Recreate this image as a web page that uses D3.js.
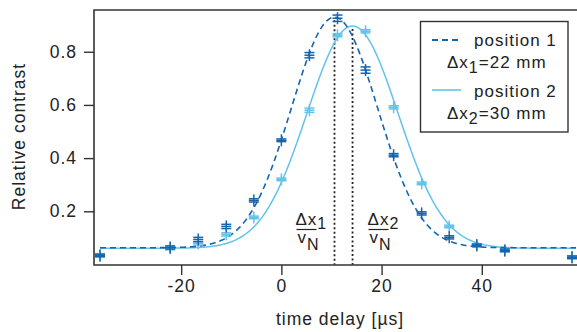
<!DOCTYPE html>
<html>
<head>
<meta charset="utf-8">
<script src="https://cdn.jsdelivr.net/npm/d3@7"></script>
<style>
body { margin: 0; background: #fff; }
text { font-family: "Liberation Sans", Arial, sans-serif; fill: #222; letter-spacing: 1px; }
</style>
</head>
<body>
<svg width="577" height="332"></svg>
<script>
var delay = [-36.2, -22.2, -16.6, -11, -5.5, 0, 5.6, 11.2, 16.8, 22.4, 28, 33.5, 39, 44.6, 58];
var pos1 = [0.034, 0.064, 0.094, 0.143, 0.241, 0.467, 0.787, 0.926, 0.731, 0.411, 0.192, 0.102, 0.072, 0.053, 0.027];
var pos1Err = [0.005, 0.006, 0.008, 0.008, 0.006, 0.005, 0.010, 0.012, 0.012, 0.006, 0.006, 0.006, 0.005, 0.005, 0.005];
var pos2 = [0.034, 0.061, 0.079, 0.113, 0.177, 0.32, 0.58, 0.862, 0.877, 0.591, 0.305, 0.143, 0.072, 0.053, 0.027];
var pos2Err = [0.005, 0.006, 0.006, 0.006, 0.005, 0.005, 0.008, 0.006, 0.006, 0.006, 0.005, 0.005, 0.005, 0.005, 0.005];

// gaussian fit params: offset, amplitude, centre, sigma
var fit1 = [0.063, 0.867, 10.6, 8.6];
var fit2 = [0.061, 0.836, 14.2, 9.1];

var xTicks = [-20, 0, 20, 40];
var yTicks = [0.2, 0.4, 0.6, 0.8];

var dark = "#1565ad";
var light = "#62c3ea";

var svg = d3.select("svg");
var x = d3.scaleLinear().domain([-37.4, 59.6]).range([94, 580]);
var y = d3.scaleLinear().domain([-0.002, 0.957]).range([265, 10]);

var xAxis = d3.axisBottom(x).tickValues(xTicks).tickSize(10).tickSizeOuter(0).tickPadding(5)
  .tickFormat(function(d){ return String(d); });
var gx = svg.append("g").attr("transform", "translate(0,265)").call(xAxis);
var yAxis = d3.axisLeft(y).tickValues(yTicks).tickSize(10).tickSizeOuter(0).tickPadding(7).tickFormat(d3.format(".1f"));
var gy = svg.append("g").attr("transform", "translate(94,0)").call(yAxis);
[gx, gy].forEach(function(g){
  g.select(".domain").remove();
  g.selectAll("line").attr("stroke", "#333").attr("stroke-width", 1.4);
  g.selectAll("text").style("font-size", "17.5px").attr("fill", "#222");
});

// frame
svg.append("path")
  .attr("d", "M580,10H94V265H580")
  .attr("fill", "none").attr("stroke", "#333").attr("stroke-width", 1.6);

// dotted peak markers
function gauss(p, t){ return p[0] + p[1]*Math.exp(-(t-p[2])*(t-p[2])/(2*p[3]*p[3])); }
[fit1, fit2].forEach(function(p){
  svg.append("line")
    .attr("x1", x(p[2])).attr("x2", x(p[2]))
    .attr("y1", y(gauss(p, p[2])) + 3).attr("y2", y(0))
    .attr("stroke", "#222").attr("stroke-width", 1.8).attr("stroke-dasharray", "2,2.5");
});

// fit curves
var tt = d3.range(-36.2, 59.01, 0.25);
function curve(p){
  return d3.line().x(function(t){return x(t)}).y(function(t){return y(gauss(p, t))})(tt);
}
svg.append("path").attr("d", curve(fit2)).attr("fill", "none").attr("stroke", light).attr("stroke-width", 1.5);
svg.append("path").attr("d", curve(fit1)).attr("fill", "none").attr("stroke", dark).attr("stroke-width", 1.6).attr("stroke-dasharray", "6,4");

// markers with error bars
function markers(vals, errs, col){
  var g = svg.append("g").attr("stroke", col).attr("stroke-width", 1.5).attr("fill", "none");
  vals.forEach(function(v, i){
    var cx = x(delay[i]), cy = y(v);
    g.append("line").attr("x1", cx-5).attr("x2", cx+5).attr("y1", cy).attr("y2", cy);
    g.append("line").attr("x1", cx).attr("x2", cx).attr("y1", cy-6).attr("y2", cy+6);
    [-1, 1].forEach(function(s){
      var ey = y(v + s*errs[i]);
      g.append("line").attr("x1", cx-5).attr("x2", cx+5).attr("y1", ey).attr("y2", ey);
    });
  });
}
markers(pos2, pos2Err, light);
markers(pos1, pos1Err, dark);

// fraction annotations
function frac(left, sub){
  var num = svg.append("text").attr("x", left).attr("y", 225).style("font-size", "17px");
  num.append("tspan").text("Δx");
  num.append("tspan").attr("dy", 4).style("font-size", "16px").text(sub);
  svg.append("line").attr("x1", left+1).attr("x2", left+21).attr("y1", 229.5).attr("y2", 229.5)
    .attr("stroke", "#222").attr("stroke-width", 1.2);
  var den = svg.append("text").attr("x", left+2).attr("y", 243).style("font-size", "17px");
  den.append("tspan").text("v");
  den.append("tspan").attr("dy", 7).style("font-size", "16px").text("N");
}
frac(x(fit1[2]) - 39, "1");
frac(x(fit2[2]) + 15, "2");

// legend
var lg = svg.append("g");
lg.append("rect").attr("x", 420.5).attr("y", 21.5).attr("width", 147.5).attr("height", 110.5)
  .attr("fill", "#fff").attr("stroke", "#333").attr("stroke-width", 1.4);
lg.append("line").attr("x1", 432).attr("x2", 461).attr("y1", 40).attr("y2", 40)
  .attr("stroke", dark).attr("stroke-width", 2).attr("stroke-dasharray", "6,4");
lg.append("line").attr("x1", 432).attr("x2", 461).attr("y1", 90).attr("y2", 90)
  .attr("stroke", light).attr("stroke-width", 1.6);
lg.append("text").attr("x", 474).attr("y", 46).style("font-size", "17px").text("position 1");
lg.append("text").attr("x", 474).attr("y", 97).style("font-size", "17px").text("position 2");
[["1", "=22 mm", 68], ["2", "=30 mm", 119]].forEach(function(r){
  var t = lg.append("text").attr("x", 447).attr("y", r[2]).style("font-size", "17px");
  t.append("tspan").text("Δx");
  t.append("tspan").attr("dy", 5).style("font-size", "16px").text(r[0]);
  t.append("tspan").attr("dy", -5).text(r[1]);
});

// axis titles
svg.append("text").attr("x", 340).attr("y", 325).attr("text-anchor", "middle")
  .style("font-size", "17.5px").text("time delay [µs]");
svg.append("text").attr("transform", "translate(25,136.5) rotate(-90)").attr("text-anchor", "middle")
  .style("font-size", "17.5px").text("Relative contrast");
</script>
</body>
</html>
